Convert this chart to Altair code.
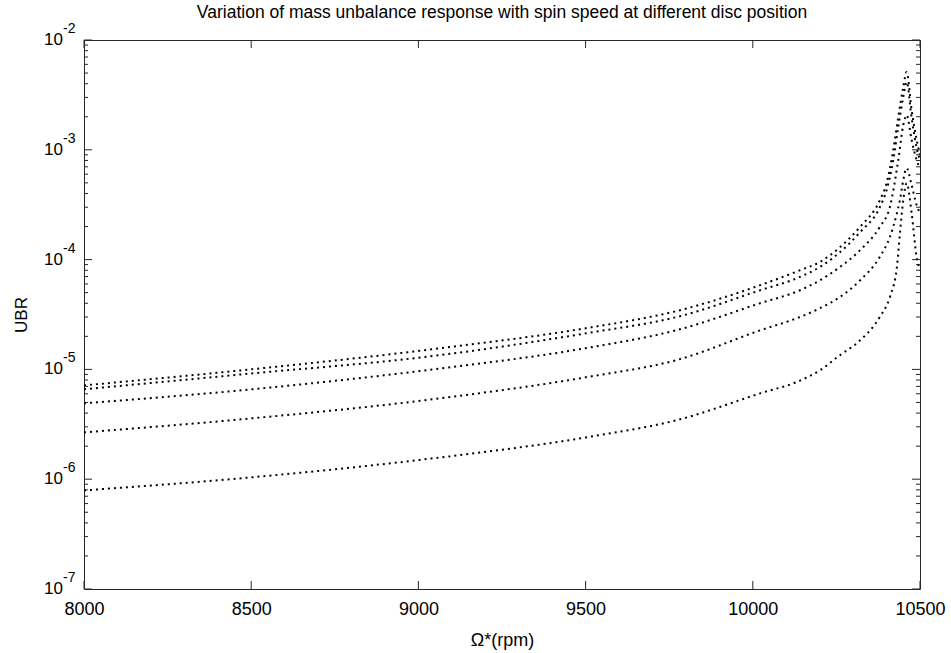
import altair as alt
import pandas as pd

rpm_1 = [8000, 8470, 9066, 9500, 9782, 10022, 10141, 10201, 10261, 10321, 10380,
         10400, 10420, 10435, 10450, 10460, 10475, 10490, 10500]
ubr_1 = [7.16e-6, 9.8e-6, 1.56e-5, 2.37e-5, 3.46e-5, 5.85e-5, 8.0e-5, 9.53e-5, 1.30e-4,
         1.99e-4, 3.48e-4, 4.97e-4, 9.93e-4, 1.99e-3, 3.73e-3, 5.11e-3, 2.30e-3, 1.23e-3,
         8.95e-4]

rpm_2 = [8000, 8470, 9066, 9500, 9782, 10022, 10141, 10201, 10261, 10321, 10380,
         10400, 10420, 10435, 10450, 10460, 10475, 10490, 10500]
ubr_2 = [6.59e-6, 9.0e-6, 1.35e-5, 2.13e-5, 3.05e-5, 5.26e-5, 6.95e-5, 8.58e-5, 1.17e-4,
         1.78e-4, 3.01e-4, 4.29e-4, 8.05e-4, 1.61e-3, 3.02e-3, 4.14e-3, 1.95e-3, 1.04e-3,
         8.05e-4]

rpm_3 = [8000, 8470, 9066, 9500, 9782, 10022, 10141, 10201, 10261, 10321, 10380,
         10410, 10435, 10450, 10460, 10475, 10490, 10500]
ubr_3 = [4.91e-6, 6.45e-6, 1.02e-5, 1.56e-5, 2.32e-5, 4.01e-5, 5.26e-5, 6.49e-5, 8.58e-5,
         1.22e-4, 1.99e-4, 3.02e-4, 8.05e-4, 1.68e-3, 2.07e-3, 1.23e-3, 8.05e-4, 6.81e-4]

rpm_4 = [8000, 8470, 9066, 9500, 9782, 10022, 10141, 10201, 10261, 10321, 10380,
         10410, 10431, 10440, 10450, 10460, 10475, 10490, 10500]
ubr_4 = [2.67e-6, 3.51e-6, 5.46e-6, 8.47e-6, 1.24e-5, 2.27e-5, 3.0e-5, 3.61e-5, 4.57e-5,
         6.49e-5, 1.06e-4, 1.61e-4, 2.65e-4, 3.48e-4, 5.30e-4, 6.81e-4, 4.77e-4, 3.13e-4,
         2.65e-4]

rpm_5 = [8000, 8470, 9066, 9500, 9782, 10022, 10141, 10201, 10261, 10321, 10380,
         10410, 10431, 10440, 10450, 10460, 10475, 10490, 10500]
ubr_5 = [7.91e-7, 1.02e-6, 1.58e-6, 2.40e-6, 3.51e-6, 6.05e-6, 7.9e-6, 9.82e-6, 1.35e-5,
         1.84e-5, 3.01e-5, 4.57e-5, 8.58e-5, 1.74e-4, 3.48e-4, 4.97e-4, 2.65e-4, 1.05e-4,
         8.0e-5]

series = [("d1", rpm_1, ubr_1), ("d2", rpm_2, ubr_2), ("d3", rpm_3, ubr_3),
          ("d4", rpm_4, ubr_4), ("d5", rpm_5, ubr_5)]

x_ticks = [8000, 8500, 9000, 9500, 10000, 10500]
y_decades = [1e-7, 1e-6, 1e-5, 1e-4, 1e-3, 1e-2]
y_exponents = ["-7", "-6", "-5", "-4", "-3", "-2"]
y_minor = [k * d for d in [1e-7, 1e-6, 1e-5, 1e-4, 1e-3] for k in range(2, 10)]

W, H = 836, 549
FONT = "Liberation Sans"
TICK_COLOR = "#262626"

rows = []
for name, rs, vs in series:
    for r, v in zip(rs, vs):
        rows.append({"rpm": r, "ubr": v, "series": name})
df = pd.DataFrame(rows)

xscale = alt.Scale(domain=[8000, 10500], nice=False, zero=False)
yscale = alt.Scale(type="log", domain=[1e-7, 1e-2], nice=False)

x_axis = alt.Axis(values=x_ticks, ticks=False, domain=False, grid=False,
                  labelFont=FONT, labelFontSize=18, labelColor="black",
                  labelPadding=11, labelFlush=False, labelOverlap=False,
                  title="Ω*(rpm)", titleFont=FONT,
                  titleFontSize=18, titleFontWeight="normal",
                  titleColor="black", titlePadding=13, format="d")
y_axis = alt.Axis(labels=False, ticks=False, domain=False, grid=False,
                  title="UBR", titleFont=FONT, titleFontSize=17,
                  titleFontWeight="normal", titleColor="black",
                  titlePadding=54)

lines = alt.Chart(df).mark_line(
    color="black", strokeWidth=2, strokeDash=[2, 4], interpolate="monotone", clip=True
).encode(
    x=alt.X("rpm:Q", scale=xscale, axis=x_axis),
    y=alt.Y("ubr:Q", scale=yscale, axis=y_axis),
    detail="series:N",
)

xt = pd.DataFrame({"t": x_ticks})
yd = pd.DataFrame({"t": y_decades, "e": y_exponents, "b": ["10"] * len(y_decades)})
ym = pd.DataFrame({"t": y_minor})


def xrule(y1, y2):
    return alt.Chart(xt).mark_rule(color=TICK_COLOR, strokeWidth=1).encode(
        x=alt.X("t:Q", scale=xscale, axis=x_axis), y=alt.value(y1), y2=alt.value(y2))


def yrule(data, x1, x2):
    return alt.Chart(data).mark_rule(color=TICK_COLOR, strokeWidth=1).encode(
        y=alt.Y("t:Q", scale=yscale, axis=y_axis), x=alt.value(x1), x2=alt.value(x2))


ticks = [
    xrule(H, H - 8), xrule(0, 8),
    yrule(yd, 0, 8), yrule(yd, W, W - 8),
    yrule(ym, 0, 4), yrule(ym, W, W - 4),
]

base_lbl = alt.Chart(yd).mark_text(
    font=FONT, fontSize=17, align="right", baseline="middle", color="black"
).encode(y=alt.Y("t:Q", scale=yscale, axis=y_axis), x=alt.value(-21), text="b:N")

exp_lbl = alt.Chart(yd).mark_text(
    font=FONT, fontSize=14, align="left", baseline="middle", color="black", dy=-11
).encode(y=alt.Y("t:Q", scale=yscale, axis=y_axis), x=alt.value(-21), text="e:N")

chart = alt.layer(lines, *ticks, base_lbl, exp_lbl).properties(
    width=W, height=H,
    title=alt.Title("Variation of mass unbalance response with spin speed at different disc position",
                    font=FONT, fontSize=17.5, fontWeight="normal", color="black", offset=1),
    autosize=alt.AutoSizeParams(type="none"),
    padding={"left": 84, "top": 40, "right": 31, "bottom": 64},
    background="white",
).configure_view(stroke=TICK_COLOR, strokeWidth=1)

chart.save("out.html", embed_options={"renderer": "svg", "actions": False})
